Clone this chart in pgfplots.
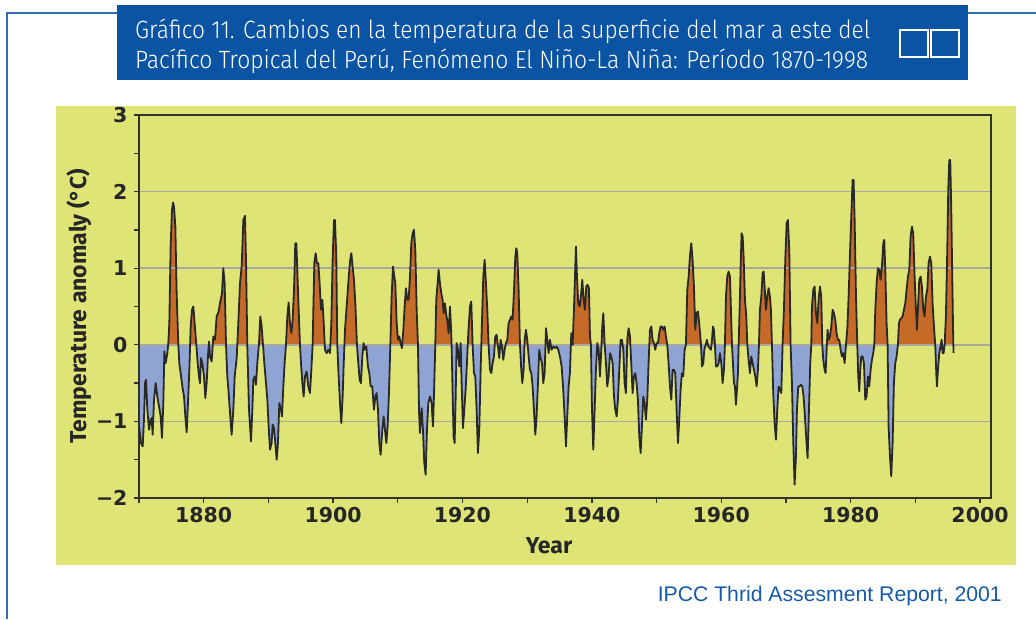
\documentclass[border=0pt]{standalone}
\usepackage{pgfplots}
\pgfplotsset{compat=1.18}
\usepackage{pgfplotstable}
\usepackage{graphicx}
\usepackage{fontspec}
\setmainfont{Fira Sans}
\newfontfamily\titlefont{Fira Sans Light}
\newfontfamily\tickfont{DejaVu Sans}
\newfontfamily\srcfont{Liberation Sans}
\definecolor{panel}{RGB}{223,228,118}
\definecolor{warm}{RGB}{198,106,40}
\definecolor{cool}{RGB}{143,164,210}
\definecolor{curve}{RGB}{40,40,40}
\definecolor{gridc}{RGB}{168,168,160}
\definecolor{axisc}{RGB}{50,50,45}
\definecolor{titleblue}{RGB}{10,84,163}
\definecolor{frameblue}{RGB}{50,110,180}
\definecolor{srcblue}{RGB}{20,90,170}

\pgfplotstableread{
year v
1870.00 -1.065
1870.31 -1.283
1870.57 -1.326
1870.77 -0.978
1870.93 -0.500
1871.08 -0.457
1871.29 -0.848
1871.55 -1.109
1871.80 -0.978
1871.96 -0.957
1872.11 -1.174
1872.32 -0.717
1872.58 -0.500
1872.83 -0.674
1873.09 -0.804
1873.35 -0.935
1873.55 -1.217
1873.76 -0.761
1873.92 -0.087
1874.12 -0.239
1874.38 -0.109
1874.53 0.022
1874.69 0.283
1874.89 1.283
1875.10 1.761
1875.26 1.857
1875.41 1.804
1875.62 1.543
1875.82 0.674
1876.08 0.000
1876.23 -0.239
1876.44 -0.370
1876.70 -0.543
1876.96 -0.674
1877.16 -0.935
1877.37 -1.143
1877.57 -0.761
1877.78 -0.326
1877.99 0.239
1878.19 0.457
1878.40 0.500
1878.60 0.283
1878.86 0.000
1879.07 -0.239
1879.27 -0.413
1879.43 -0.500
1879.58 -0.174
1879.79 -0.239
1880.05 -0.413
1880.25 -0.696
1880.46 -0.500
1880.66 -0.152
1880.82 0.043
1880.97 -0.152
1881.23 -0.217
1881.49 0.109
1881.75 0.065
1882.00 0.370
1882.31 0.435
1882.52 0.543
1882.83 0.674
1883.03 1.000
1883.24 0.804
1883.45 0.000
1883.65 -0.413
1883.86 -0.630
1884.07 -0.891
1884.32 -1.174
1884.58 -0.848
1884.79 -0.413
1885.10 -0.174
1885.35 0.283
1885.61 0.804
1885.87 1.022
1886.13 1.630
1886.38 1.683
1886.54 1.109
1886.74 0.000
1887.00 -0.848
1887.31 -1.261
1887.52 -0.848
1887.67 -0.457
1887.88 -0.413
1888.08 -0.522
1888.29 -0.239
1888.55 0.022
1888.75 0.370
1888.96 0.239
1889.17 0.000
1889.37 -0.239
1889.63 -0.500
1889.84 -0.717
1890.04 -1.065
1890.25 -1.370
1890.50 -1.283
1890.66 -1.043
1890.87 -1.087
1891.07 -1.283
1891.28 -1.500
1891.48 -1.283
1891.69 -0.761
1891.90 -0.826
1892.10 -0.935
1892.31 -0.543
1892.51 -0.239
1892.72 0.000
1892.93 0.370
1893.13 0.552
1893.34 0.283
1893.55 0.152
1893.75 0.326
1893.96 0.717
1894.16 1.326
1894.32 1.326
1894.47 0.978
1894.68 0.457
1894.88 0.000
1895.04 -0.239
1895.25 -0.500
1895.45 -0.674
1895.66 -0.413
1895.91 -0.348
1896.17 -0.543
1896.43 -0.630
1896.64 -0.326
1896.84 0.000
1896.95 0.457
1897.10 1.065
1897.31 1.196
1897.51 1.065
1897.72 1.065
1897.92 0.804
1898.13 0.457
1898.34 0.587
1898.49 0.391
1898.75 -0.065
1899.01 -0.109
1899.26 -0.065
1899.52 -0.109
1899.73 0.283
1899.93 1.109
1900.14 1.630
1900.29 1.630
1900.50 1.152
1900.65 0.000
1900.86 -0.413
1901.07 -0.761
1901.27 -1.022
1901.48 -0.674
1901.63 -0.283
1901.84 0.196
1902.10 0.500
1902.35 0.804
1902.61 1.087
1902.82 1.196
1903.02 1.022
1903.23 0.848
1903.44 0.543
1903.69 0.000
1903.90 -0.239
1904.11 -0.457
1904.31 -0.500
1904.52 -0.152
1904.72 0.022
1904.93 -0.065
1905.14 -0.022
1905.39 -0.283
1905.60 -0.370
1905.81 -0.543
1906.06 -0.543
1906.32 -0.848
1906.53 -0.674
1906.73 -0.630
1906.94 -0.848
1907.15 -1.283
1907.35 -1.435
1907.61 -1.109
1907.82 -0.935
1908.02 -1.109
1908.23 -1.283
1908.43 -1.065
1908.64 -0.630
1908.85 0.000
1909.05 0.630
1909.26 1.022
1909.46 0.891
1909.62 0.804
1909.83 0.283
1910.03 0.065
1910.24 0.109
1910.44 0.022
1910.65 -0.043
1910.86 0.196
1911.06 0.500
1911.27 0.739
1911.47 0.587
1911.68 0.587
1911.89 0.891
1912.09 1.326
1912.30 1.457
1912.50 1.500
1912.71 1.239
1912.92 0.457
1913.12 0.000
1913.28 -0.848
1913.43 -1.152
1913.69 -0.826
1913.89 -1.109
1914.10 -1.543
1914.31 -1.696
1914.51 -1.109
1914.72 -0.761
1914.98 -0.674
1915.23 -0.761
1915.44 -1.065
1915.59 -0.674
1915.80 0.000
1915.95 0.587
1916.16 0.804
1916.32 0.978
1916.52 0.804
1916.73 0.674
1916.93 0.587
1917.09 0.413
1917.29 0.543
1917.50 0.391
1917.71 0.283
1917.86 0.152
1918.07 0.500
1918.22 0.239
1918.32 0.000
1918.48 -0.630
1918.63 -1.196
1918.79 -1.283
1918.94 -0.717
1919.10 0.022
1919.30 -0.065
1919.51 -0.283
1919.72 0.022
1919.87 -0.500
1920.08 -1.087
1920.28 -0.848
1920.49 -0.587
1920.69 -0.239
1920.90 0.152
1921.16 0.500
1921.36 0.565
1921.57 0.000
1921.78 -0.370
1921.98 -0.413
1922.19 -0.848
1922.39 -1.413
1922.60 -1.109
1922.81 -0.326
1923.01 0.283
1923.22 0.891
1923.43 1.109
1923.63 0.804
1923.84 0.457
1924.04 0.000
1924.25 -0.326
1924.46 -0.370
1924.66 -0.239
1924.87 -0.152
1925.07 0.109
1925.28 0.130
1925.49 -0.022
1925.69 -0.174
1925.90 0.065
1926.10 -0.022
1926.31 -0.196
1926.52 -0.065
1926.72 0.022
1926.93 0.065
1927.13 0.283
1927.34 0.326
1927.55 0.370
1927.75 0.326
1927.96 0.696
1928.17 1.152
1928.32 1.261
1928.47 1.196
1928.68 0.717
1928.89 0.000
1929.09 -0.326
1929.25 -0.500
1929.45 -0.326
1929.61 0.065
1929.81 0.196
1930.02 0.065
1930.23 -0.152
1930.43 -0.326
1930.64 -0.370
1930.84 -0.543
1931.05 -0.848
1931.26 -1.174
1931.46 -0.935
1931.67 -0.500
1931.87 -0.065
1932.08 -0.174
1932.29 -0.239
1932.49 -0.500
1932.70 -0.370
1932.91 0.217
1933.11 0.065
1933.32 -0.109
1933.52 0.065
1933.78 -0.065
1934.04 -0.022
1934.30 -0.043
1934.55 -0.022
1934.81 -0.065
1935.07 -0.152
1935.33 -0.283
1935.58 -0.587
1935.79 -0.935
1936.00 -1.326
1936.20 -0.935
1936.41 -0.543
1936.61 -0.370
1936.82 0.152
1937.03 0.000
1937.23 0.457
1937.39 0.891
1937.54 1.283
1937.70 0.891
1937.90 0.543
1938.11 0.500
1938.31 0.630
1938.52 0.848
1938.73 0.587
1938.93 0.457
1939.14 0.761
1939.35 0.783
1939.55 0.739
1939.71 0.109
1939.86 0.000
1940.01 -0.804
1940.22 -1.370
1940.43 -0.848
1940.63 -0.326
1940.84 0.022
1941.05 -0.065
1941.25 -0.413
1941.46 -0.065
1941.61 0.239
1941.77 0.413
1941.97 0.022
1942.18 -0.239
1942.38 -0.543
1942.59 -0.413
1942.80 -0.109
1943.00 -0.152
1943.21 -0.239
1943.42 -0.674
1943.62 -0.848
1943.83 -0.935
1944.03 -0.717
1944.24 -0.326
1944.45 0.065
1944.65 0.065
1944.86 -0.065
1945.06 -0.500
1945.27 -0.630
1945.48 0.065
1945.68 0.217
1945.89 0.109
1946.09 -0.239
1946.30 -0.630
1946.51 -0.413
1946.71 -0.370
1946.92 -0.500
1947.12 -0.717
1947.33 -1.196
1947.54 -1.413
1947.74 -1.065
1947.95 -0.674
1948.15 -0.761
1948.36 -0.978
1948.57 -0.717
1948.77 -0.239
1948.98 0.196
1949.19 0.239
1949.39 0.065
1949.60 0.022
1949.80 -0.065
1950.01 0.022
1950.22 0.022
1950.42 0.152
1950.63 0.239
1950.83 0.239
1951.04 0.196
1951.25 0.239
1951.45 0.109
1951.66 0.000
1951.86 -0.239
1952.07 -0.543
1952.28 -0.717
1952.48 -0.326
1952.69 -0.326
1952.89 -0.370
1953.10 -0.848
1953.31 -1.283
1953.51 -0.978
1953.72 -0.587
1953.92 -0.370
1954.13 -0.413
1954.34 -0.065
1954.54 0.000
1954.75 0.717
1954.96 0.891
1955.16 1.152
1955.37 1.326
1955.57 1.109
1955.78 0.761
1955.99 0.196
1956.19 0.413
1956.40 0.435
1956.60 0.283
1956.87 0.000
1957.02 -0.283
1957.23 -0.239
1957.38 -0.065
1957.59 0.000
1957.79 0.065
1958.00 -0.022
1958.20 -0.043
1958.41 -0.065
1958.57 0.065
1958.72 0.239
1958.87 0.196
1959.03 0.000
1959.18 -0.283
1959.39 -0.283
1959.60 -0.239
1959.80 -0.109
1960.01 -0.239
1960.21 -0.500
1960.42 -0.326
1960.57 0.000
1960.73 0.630
1960.93 0.891
1961.14 0.957
1961.35 0.891
1961.50 0.457
1961.66 0.000
1961.81 -0.239
1961.97 -0.500
1962.12 -0.543
1962.27 -0.783
1962.43 -0.587
1962.58 -0.370
1962.69 0.000
1962.84 0.457
1963.00 1.022
1963.15 1.457
1963.31 1.413
1963.46 1.152
1963.67 0.587
1963.87 0.370
1964.03 0.000
1964.23 -0.196
1964.44 -0.370
1964.64 -0.152
1964.85 -0.239
1965.06 -0.326
1965.26 -0.413
1965.47 -0.543
1965.67 -0.326
1965.83 0.000
1965.98 0.457
1966.19 0.630
1966.40 0.935
1966.55 0.957
1966.71 0.761
1966.91 0.457
1967.12 0.630
1967.32 0.739
1967.53 0.630
1967.68 0.457
1967.84 0.000
1968.04 -0.630
1968.25 -1.022
1968.46 -1.239
1968.66 -0.848
1968.87 -0.543
1969.08 -0.587
1969.28 -0.630
1969.49 0.022
1969.69 0.457
1969.90 1.109
1970.11 1.587
1970.31 1.630
1970.52 1.239
1970.72 0.000
1970.93 -0.500
1971.14 -1.283
1971.34 -1.826
1971.55 -1.457
1971.70 -0.848
1971.91 -0.543
1972.11 -0.543
1972.32 -0.522
1972.53 -0.543
1972.73 -0.674
1972.94 -0.935
1973.15 -1.239
1973.35 -1.478
1973.56 -0.848
1973.76 -0.239
1973.92 0.000
1974.02 0.500
1974.23 0.717
1974.43 0.761
1974.64 0.413
1974.85 0.283
1975.05 0.587
1975.26 0.761
1975.46 0.630
1975.62 0.000
1975.77 -0.196
1975.98 -0.326
1976.13 -0.370
1976.29 -0.065
1976.44 0.196
1976.60 0.065
1976.80 0.109
1977.01 0.239
1977.22 0.457
1977.42 0.413
1977.63 0.326
1977.83 0.152
1978.04 0.065
1978.25 0.065
1978.45 -0.065
1978.66 -0.152
1978.86 -0.109
1979.07 -0.239
1979.28 0.000
1979.48 0.196
1979.69 0.630
1979.89 1.152
1980.10 1.674
1980.31 2.152
1980.46 2.152
1980.62 1.630
1980.82 0.674
1981.03 0.000
1981.18 -0.413
1981.34 -0.609
1981.49 -0.326
1981.65 -0.152
1981.85 -0.152
1982.06 -0.239
1982.26 -0.717
1982.47 -0.674
1982.68 -0.413
1982.88 -0.543
1983.09 -0.326
1983.29 -0.196
1983.50 -0.109
1983.66 0.000
1983.81 0.457
1984.02 0.804
1984.22 1.000
1984.43 0.978
1984.63 0.848
1984.84 1.022
1985.05 1.326
1985.20 1.370
1985.36 0.978
1985.56 0.283
1985.72 0.000
1985.87 -1.065
1986.08 -1.457
1986.28 -1.717
1986.49 -1.283
1986.69 -0.500
1986.90 -0.239
1987.11 -0.152
1987.31 0.000
1987.47 0.283
1987.62 0.326
1987.83 0.348
1988.03 0.370
1988.24 0.457
1988.45 0.543
1988.65 0.717
1988.86 0.891
1989.07 0.978
1989.27 1.413
1989.48 1.543
1989.68 1.457
1989.89 0.891
1990.10 0.457
1990.25 0.196
1990.40 0.457
1990.61 0.848
1990.82 0.891
1991.02 0.761
1991.23 0.457
1991.43 0.370
1991.64 0.630
1991.85 0.717
1992.05 1.065
1992.26 1.152
1992.47 1.065
1992.67 0.543
1992.88 0.239
1993.08 0.000
1993.24 -0.370
1993.34 -0.543
1993.50 -0.326
1993.70 -0.109
1993.91 -0.022
1994.06 0.065
1994.22 -0.109
1994.37 -0.109
1994.53 0.000
1994.73 0.370
1994.94 1.239
1995.09 2.022
1995.25 2.413
1995.40 2.413
1995.56 1.761
1995.71 0.891
1995.87 0.022
1995.92 -0.109
}\sst

\begin{document}
\begin{tikzpicture}[x=1pt,y=1pt]
\path[use as bounding box] (0,0) rectangle (1036,619);
% outer frame
\draw[frameblue, line width=1.5pt] (7,0) -- (7,606) -- (1036,606);
% title box
\fill[titleblue] (117,539) rectangle (968,614);
\node[anchor=base west, text=white, inner sep=0pt] at (135,580)
  {\titlefont\fontsize{25}{25}\selectfont\resizebox{735pt}{\height}{Gráfico 11. Cambios en la temperatura de la superficie del mar a este del}};
\node[anchor=base west, text=white, inner sep=0pt] at (135,550)
  {\titlefont\fontsize{25}{25}\selectfont\resizebox{733pt}{\height}{Pacífico Tropical del Perú, Fenómeno El Niño-La Niña: Período 1870-1998}};
\draw[white, line width=2pt] (900,562) rectangle (928,589);
\draw[white, line width=2pt] (931,562) rectangle (959,589);
% panel
\fill[panel] (56,54) rectangle (1016,513);

% positive fill
\begin{axis}[at={(139pt,274pt)}, anchor=south west, scale only axis,
  width=852pt, height=230pt, xmin=1870, xmax=2001.7, ymin=0, ymax=3,
  hide axis, clip=true]
\addplot[draw=none, fill=warm] table[x=year,y=v]{\sst} \closedcycle;
\end{axis}
% negative fill
\begin{axis}[at={(139pt,121pt)}, anchor=south west, scale only axis,
  width=852pt, height=153pt, xmin=1870, xmax=2001.7, ymin=-2, ymax=0,
  hide axis, clip=true]
\addplot[draw=none, fill=cool] table[x=year,y=v]{\sst} \closedcycle;
\end{axis}
% main axis
\begin{axis}[at={(139pt,121pt)}, anchor=south west, scale only axis,
  width=852pt, height=383pt, xmin=1870, xmax=2001.7, ymin=-2, ymax=3,
  axis line style={axisc, line width=2.2pt},
  tick pos=left, tick align=outside,
  major tick length=5pt, minor tick length=5pt,
  every tick/.style={axisc, line width=1.3pt},
  xtick={1870,1880,...,2000},
  xticklabels={{},1880,{},1900,{},1920,{},1940,{},1960,{},1980,{},2000},
  ytick={-2,-1,0,1,2,3},
  yticklabels={−2,−1,0,1,2,3},
  minor ytick={-1.5,-0.5,0.5,1.5,2.5},
  ymajorgrids, grid style={gridc, line width=1.6pt},
  tick label style={font=\tickfont\bfseries\fontsize{20.5}{20.5}\selectfont, text=black!85},
  yticklabel style={xshift=-3pt},
  xticklabel style={yshift=-1pt},
  /pgf/number format/assume math mode=true]
\addplot[curve, line width=1.8pt, line join=round, mark=none] table[x=year,y=v]{\sst};
\end{axis}

\node[rotate=90, font=\fontsize{23}{23}\selectfont\bfseries, text=black!85] at (79,313) {Temperature anomaly (°C)};
\node[font=\fontsize{23}{23}\selectfont\bfseries, text=black!85] at (549,73) {Year};
\node[anchor=base east, text=srcblue, inner sep=0pt, font=\srcfont\fontsize{21.2}{21.2}\selectfont] at (1002,17.3) {IPCC Thrid Assesment Report, 2001};
\end{tikzpicture}
\end{document}
